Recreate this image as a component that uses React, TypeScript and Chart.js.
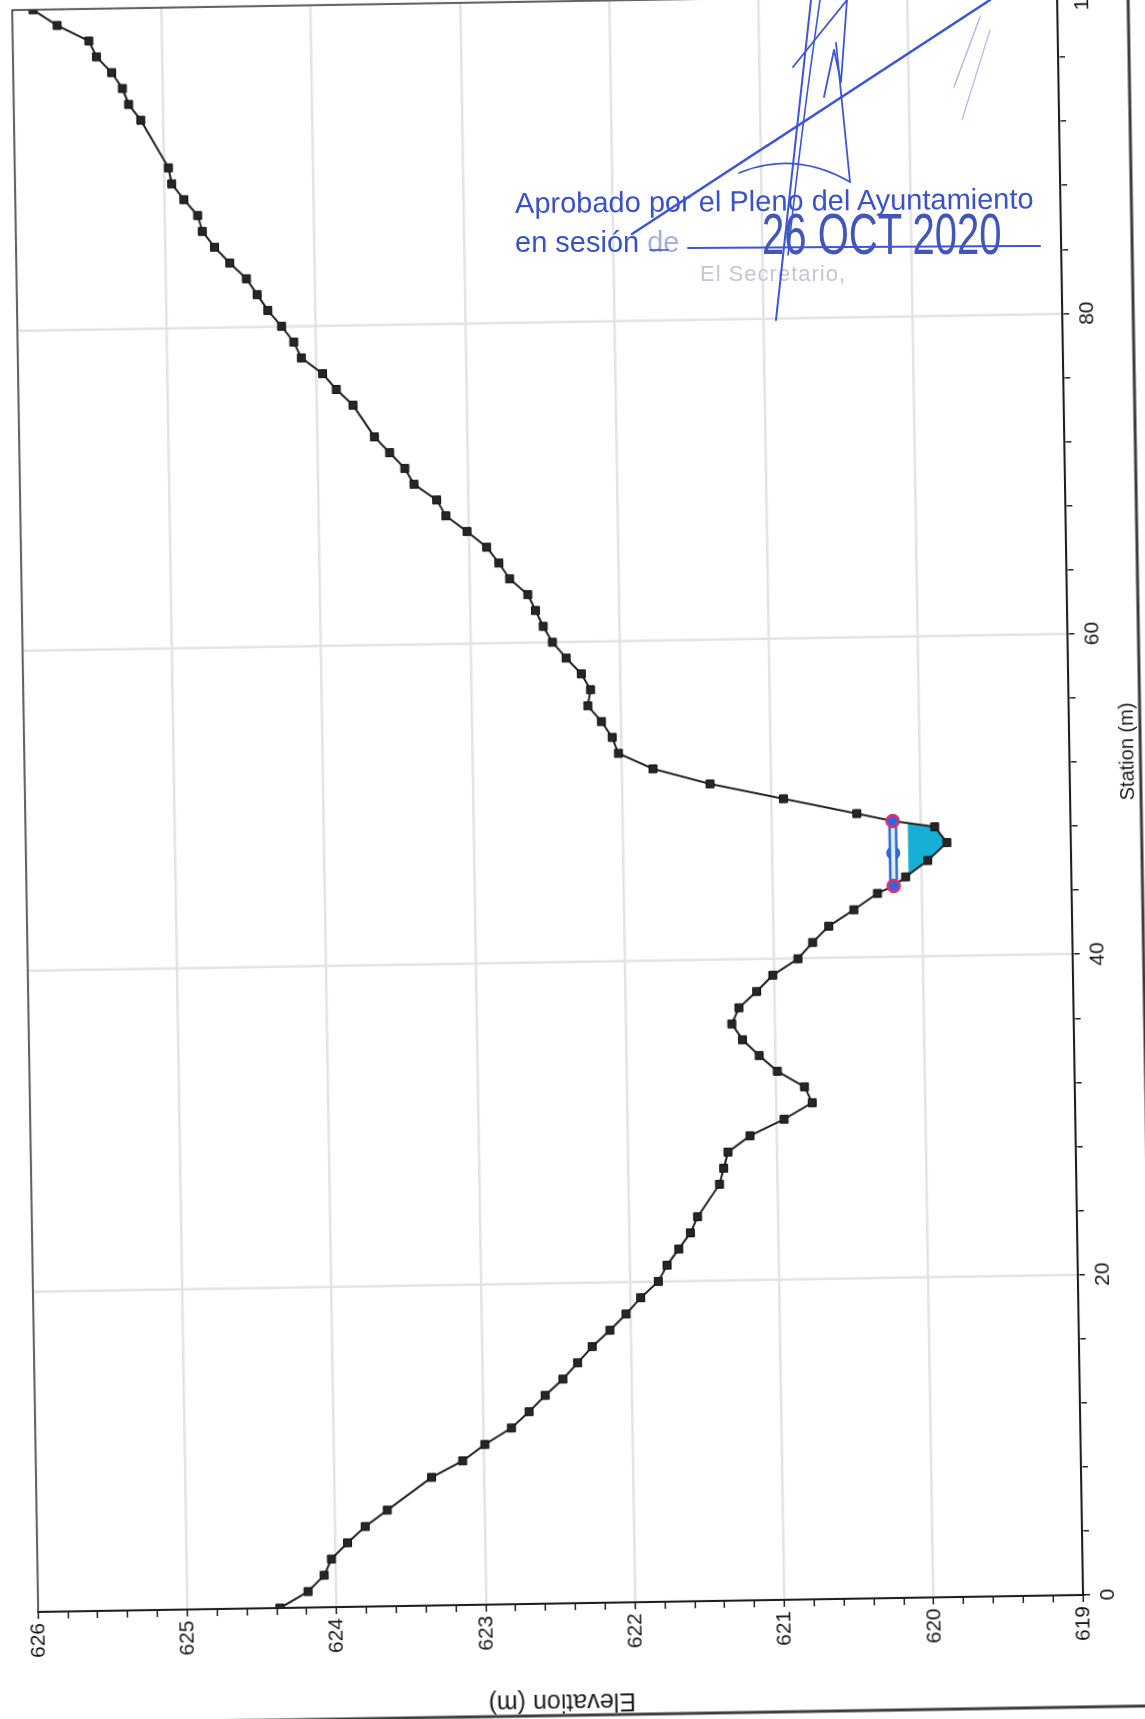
import React, { useEffect, useRef } from 'react';
import { Chart, registerables } from 'chart.js';

Chart.register(...registerables);

// ---------------- data ----------------
const groundStation = [0, 1, 2, 3, 4, 5, 6, 8, 9, 10, 11, 12, 13, 14, 15, 16, 17, 18, 19, 20, 21, 22, 23, 24, 26, 27, 28, 29, 30, 31, 32, 33, 34, 35, 36, 37, 38, 39, 40, 41, 42, 43, 44, 44.45, 45, 46, 47.1, 48.1, 48.5, 49, 50, 51, 52, 53, 54, 55, 56, 57, 58, 59, 60, 61, 62, 63, 64, 65, 66, 67, 68, 69, 70, 71, 72, 73, 75, 76, 77, 78, 79, 80, 81, 82, 83, 84, 85, 86, 87, 88, 89, 90, 93, 94, 95, 96, 97, 98, 99, 100];
const groundElevation = [624.38, 624.19, 624.08, 624.03, 623.92, 623.8, 623.65, 623.35, 623.14, 622.99, 622.81, 622.69, 622.58, 622.46, 622.36, 622.26, 622.14, 622.03, 621.93, 621.81, 621.75, 621.67, 621.59, 621.54, 621.39, 621.36, 621.33, 621.18, 620.95, 620.76, 620.81, 620.99, 621.11, 621.22, 621.29, 621.24, 621.12, 621.01, 620.84, 620.74, 620.63, 620.46, 620.3, 620.19, 620.11, 619.96, 619.83, 619.91, 620.19, 620.43, 620.92, 621.41, 621.79, 622.02, 622.06, 622.13, 622.22, 622.2, 622.26, 622.36, 622.45, 622.51, 622.56, 622.61, 622.73, 622.8, 622.88, 623.01, 623.15, 623.21, 623.36, 623.42, 623.52, 623.62, 623.76, 623.87, 623.96, 624.1, 624.15, 624.23, 624.32, 624.39, 624.46, 624.57, 624.67, 624.75, 624.78, 624.87, 624.95, 624.97, 625.15, 625.23, 625.27, 625.34, 625.44, 625.49, 625.7, 625.86];
const bankStation = [44.45, 48.5];
const bankElevation = [620.19, 620.19];
const wsLineStation = [44.45, 46.5, 48.5];
const wsLineElevation = [620.19, 620.19, 620.19];
const waterSurfaceElevation = 620.09;
const waterEdgeStation = [45.13, 48.36];

const stationRange = [0, 100];
const stationMinorStep = 4;
const stationLabelStep = 20;
const elevationRange = [619, 626];
const elevationMinorStep = 0.2;

const stationTitle = 'Station (m)';
const elevationTitle = 'Elevation (m)';

// ---------------- layout (original, un-rotated chart) ----------------
const CW = 1755;
const CH = 1150;
const PAD = { left: 10, right: 30, top: 20, bottom: 15 };
const Y_AXIS_W = 113;
const X_AXIS_H = 70;
const AREA_LEFT = PAD.left + Y_AXIS_W;
const AREA_BOTTOM = CH - PAD.bottom - X_AXIS_H;
const ORIGIN_X = 1083;
const ORIGIN_Y = 1595;
const ROTATE_DEG = -90.93;
const FONT = "'Liberation Sans', Arial, Helvetica, sans-serif";

const isWhole = (v: number) => Math.abs(v - Math.round(v)) < 1e-6;
const isMult = (v: number, m: number) => Math.abs(v / m - Math.round(v / m)) < 1e-6;

const framePlugin = {
  id: 'sheetFrame',
  afterDraw(chart: any) {
    const { ctx, chartArea: a } = chart;
    ctx.save();
    // plot border (top / right)
    ctx.strokeStyle = '#3a3a3a';
    ctx.lineWidth = 1.5;
    ctx.beginPath();
    ctx.moveTo(a.left, a.top);
    ctx.lineTo(a.right, a.top);
    ctx.lineTo(a.right, a.bottom);
    ctx.stroke();
    // outer sheet frame
    ctx.strokeStyle = '#3c3c3c';
    ctx.lineWidth = 3;
    ctx.beginPath();
    ctx.moveTo(a.left - 112, 0);
    ctx.lineTo(a.left - 112, a.bottom + 71);
    ctx.lineTo(chart.width, a.bottom + 71);
    ctx.stroke();
    // station axis title (centred on the whole graph, not the plot area)
    ctx.fillStyle = '#1c1c1c';
    ctx.font = `20px ${FONT}`;
    ctx.textAlign = 'center';
    ctx.textBaseline = 'middle';
    ctx.fillText(stationTitle, a.left + (a.right - a.left) * 0.526, a.bottom + 58);
    ctx.restore();
  },
};

export default function App() {
  const ref = useRef<HTMLCanvasElement | null>(null);

  useEffect(() => {
    if (!ref.current) return;
    Chart.defaults.font.family = FONT;

    const ground = groundStation.map((s, i) => ({ x: s, y: groundElevation[i] }));
    const banks = bankStation.map((s, i) => ({ x: s, y: bankElevation[i] }));
    const wsLine = wsLineStation.map((s, i) => ({ x: s, y: wsLineElevation[i] }));
    const water = [
      { x: waterEdgeStation[0], y: waterSurfaceElevation },
      ...ground.filter((p) => p.x > waterEdgeStation[0] && p.x < waterEdgeStation[1]),
      { x: waterEdgeStation[1], y: waterSurfaceElevation },
    ];

    const chart = new Chart(ref.current, {
      type: 'line',
      data: {
        datasets: [
          {
            label: 'Bank Sta',
            data: banks,
            showLine: false,
            pointStyle: 'circle',
            pointRadius: 6,
            pointBackgroundColor: '#3a62d8',
            pointBorderColor: '#e0306a',
            pointBorderWidth: 2.5,
            order: 0,
          },
          {
            label: 'Ground',
            data: ground,
            borderColor: '#202020',
            borderWidth: 2,
            pointStyle: 'rect',
            pointRadius: 5.6,
            pointBackgroundColor: '#262626',
            pointBorderColor: '#111',
            pointBorderWidth: 1,
            tension: 0,
            order: 1,
          },
          {
            label: 'WS inner',
            data: wsLine,
            borderColor: '#dcefff',
            borderWidth: 4,
            pointRadius: 0,
            order: 2,
          },
          {
            label: 'WS',
            data: wsLine,
            borderColor: '#2f67d6',
            borderWidth: 9,
            pointStyle: 'circle',
            pointRadius: 2.5,
            pointBackgroundColor: '#2f67d6',
            pointBorderColor: '#2f67d6',
            order: 3,
          },
          {
            label: 'Water',
            data: water,
            borderWidth: 0,
            borderColor: 'rgba(0,0,0,0)',
            backgroundColor: '#17afd6',
            pointRadius: 0,
            fill: { value: waterSurfaceElevation },
            order: 4,
          },
        ],
      },
      options: {
        responsive: false,
        maintainAspectRatio: false,
        devicePixelRatio: 1,
        animation: false,
        layout: { padding: PAD },
        plugins: { legend: { display: false }, tooltip: { enabled: false } },
        scales: {
          x: {
            type: 'linear',
            min: stationRange[0],
            max: stationRange[1],
            ticks: {
              stepSize: stationMinorStep,
              autoSkip: false,
              maxRotation: 0,
              minRotation: 0,
              padding: 6,
              color: '#151515',
              font: { size: 21 },
              callback: (v: any) => (isMult(Number(v), stationLabelStep) ? String(Math.round(Number(v))) : ''),
            },
            grid: {
              color: (c: any) => (c.tick && isMult(c.tick.value, stationLabelStep) ? '#e3e3e3' : 'rgba(0,0,0,0)'),
              lineWidth: 2.5,
              tickColor: '#222',
              tickWidth: 1.5,
              tickLength: 7,
              drawTicks: true,
            },
            border: { display: true, color: '#1e1e1e', width: 2 },
            title: { display: false },
            afterFit: (s: any) => {
              s.height = X_AXIS_H;
            },
          },
          y: {
            type: 'linear',
            min: elevationRange[0],
            max: elevationRange[1],
            ticks: {
              stepSize: elevationMinorStep,
              autoSkip: false,
              padding: 4,
              color: '#151515',
              font: { size: 21 },
              callback: (v: any) => (isWhole(Number(v)) ? String(Math.round(Number(v))) : ''),
            },
            grid: {
              color: (c: any) => (c.tick && isWhole(c.tick.value) ? '#e3e3e3' : 'rgba(0,0,0,0)'),
              lineWidth: 2.5,
              tickColor: '#222',
              tickWidth: 1.5,
              tickLength: 7,
              drawTicks: true,
            },
            border: { display: true, color: '#1e1e1e', width: 2 },
            title: { display: true, text: elevationTitle, color: '#1c1c1c', font: { size: 25 }, padding: 0 },
            afterFit: (s: any) => {
              s.width = Y_AXIS_W;
            },
          },
        },
      },
      plugins: [framePlugin],
    } as any);

    return () => chart.destroy();
  }, []);

  const blue = '#3a52c8';

  return (
    <div
      style={{
        position: 'fixed',
        left: 0,
        top: 0,
        width: 1145,
        height: 1719,
        overflow: 'hidden',
        background: '#ffffff',
      }}
    >
      <div
        style={{
          position: 'absolute',
          left: ORIGIN_X - AREA_LEFT,
          top: ORIGIN_Y - AREA_BOTTOM,
          width: CW,
          height: CH,
          transformOrigin: `${AREA_LEFT}px ${AREA_BOTTOM}px`,
          transform: `rotate(${ROTATE_DEG}deg)`,
        }}
      >
        <canvas ref={ref} width={CW} height={CH} style={{ display: 'block', width: CW, height: CH }} />
      </div>

      {/* approval stamp */}
      <div
        style={{
          position: 'absolute',
          left: 515,
          top: 189,
          fontFamily: FONT,
          fontSize: 29,
          lineHeight: '29px',
          color: blue,
          whiteSpace: 'nowrap',
          transform: 'rotate(-0.5deg)',
          transformOrigin: 'left center',
        }}
      >
        Aprobado por el Pleno del Ayuntamiento
      </div>
      <div
        style={{
          position: 'absolute',
          left: 515,
          top: 228,
          fontFamily: FONT,
          fontSize: 29,
          lineHeight: '29px',
          color: blue,
          whiteSpace: 'nowrap',
        }}
      >
        en sesión <span style={{ color: '#a9b0dc' }}>de</span>
      </div>
      <div
        style={{
          position: 'absolute',
          left: 762,
          top: 205,
          fontFamily: FONT,
          fontSize: 58,
          lineHeight: '58px',
          color: '#4356b8',
          whiteSpace: 'nowrap',
          transform: 'scaleX(0.69)',
          transformOrigin: 'left top',
        }}
      >
        26 OCT 2020
      </div>
      <div
        style={{
          position: 'absolute',
          left: 700,
          top: 263,
          fontFamily: FONT,
          fontSize: 22,
          lineHeight: '22px',
          letterSpacing: 1,
          color: '#c3c6d6',
          whiteSpace: 'nowrap',
        }}
      >
        El Secretario,
      </div>
      <svg
        width={1145}
        height={1719}
        style={{ position: 'absolute', left: 0, top: 0, pointerEvents: 'none' }}
      >
        <g fill="none" stroke="#3d55d6" strokeLinecap="round" strokeLinejoin="round">
          <path d="M 632 234 L 990 0" strokeWidth={2.5} />
          <path d="M 776 320 L 811 0" strokeWidth={2} />
          <path d="M 788 255 C 798 160 810 70 820 0" strokeWidth={1.6} />
          <path d="M 793 67 L 847 0" strokeWidth={1.8} />
          <path d="M 824 97 L 834 50 L 841 82 L 847 0" strokeWidth={1.8} />
          <path d="M 836 43 L 850 182" strokeWidth={1.8} />
          <path d="M 739 173 Q 795 150 850 182" strokeWidth={1.6} />
          <path d="M 650 250 L 668 250" strokeWidth={1.5} />
          <path d="M 688 248 L 1040 246" strokeWidth={2} />
        </g>
        <g fill="none" stroke="#b3b8e8" strokeLinecap="round">
          <path d="M 954 87 L 980 17" strokeWidth={1.5} />
          <path d="M 962 120 L 990 30" strokeWidth={1.2} />
        </g>
      </svg>
    </div>
  );
}
